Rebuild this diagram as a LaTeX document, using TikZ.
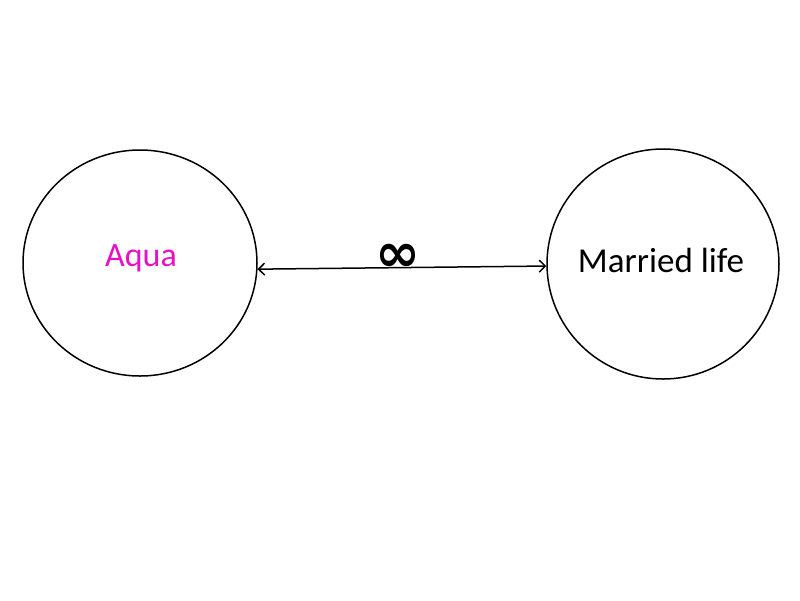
\documentclass[tikz,border=0pt]{standalone}
\usepackage{fontspec}
\setmainfont{Carlito}
\newfontfamily\symbfont{DejaVu Sans}
\usetikzlibrary{arrows.meta}
\definecolor{aquapink}{HTML}{E810C4}
\tikzset{
	bubble/.style={draw=black, line width=1.5pt, ellipse, inner sep=0pt},
	link/.style={line width=1.5pt, {Straight Barb[length=6pt,width=12pt]}-{Straight Barb[length=6pt,width=12pt]}}
}
\usetikzlibrary{shapes.geometric}

\begin{document}
\begin{tikzpicture}[x=1pt, y=-1pt]
			%%%%% START %%%%%
			\useasboundingbox[fill=white] (0, 0) rectangle (800, 600);
			
			\node[bubble, minimum width=234pt, minimum height=226pt] (aqua) at (140, 263) {};
			\node[bubble, minimum width=232pt, minimum height=230pt] (married) at (663, 264) {};
			
			\node[color=aquapink, font=\fontsize{34}{38}\selectfont] (aquatext) at (141, 258) {Aqua};
			\node[font=\fontsize{35}{40}\selectfont] (marriedtext) at (661, 260) {Married life};
			
			\draw[link] (aqua.-3) -- (married.181.5);
			\node[font=\symbfont\bfseries\fontsize{54}{54}\selectfont, inner sep=0pt] (infty) at (398, 258) {∞};
			
			%%%%% END %%%%%
		\end{tikzpicture}
\end{document}
